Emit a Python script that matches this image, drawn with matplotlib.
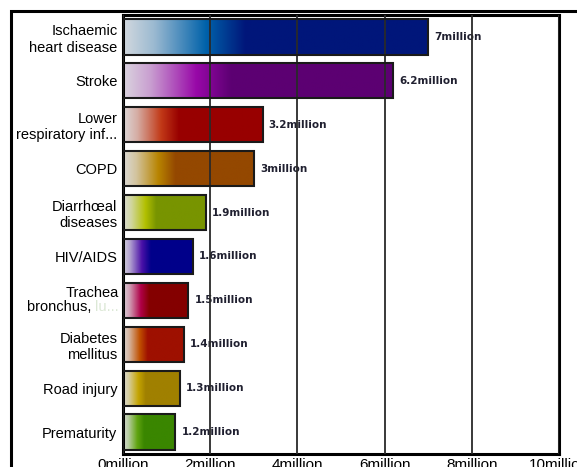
import numpy as np
import matplotlib
matplotlib.use("Agg")
import matplotlib.pyplot as plt
from matplotlib.colors import LinearSegmentedColormap, to_rgb
from matplotlib.patches import Rectangle

# Leading causes of death worldwide (millions)
causes = ["Ischaemic\nheart disease", "Stroke", "Lower\nrespiratory inf...", "COPD",
          "Diarrhœal\ndiseases", "HIV/AIDS", "Trachea\nbronchus, lu...", "Diabetes\nmellitus",
          "Road injury", "Prematurity"]
deaths = [7.0, 6.2, 3.2, 3.0, 1.9, 1.6, 1.5, 1.4, 1.3, 1.2]
mid_colors = ["#0062aa", "#9808a8", "#c23a18", "#b88400", "#b2c000",
              "#4a10a8", "#b00048", "#c05000", "#c4a400", "#60a410"]
dark_colors = ["#00167a", "#5c0072", "#980000", "#944800", "#789400",
               "#00008a", "#840000", "#9e1000", "#a08000", "#3a8600"]
xticks = [0, 2, 4, 6, 8, 10]

plt.rcParams["font.family"] = ["Liberation Sans", "DejaVu Sans"]

W, H = 577, 467
fig = plt.figure(figsize=(W / 100, H / 100), dpi=100)
ax = fig.add_axes([123 / W, 13 / H, (559 - 123) / W, (452 - 13) / H])

# outer frame
fig.patches.append(Rectangle((11 / W, -0.05), 1.2, (467 - 11) / H + 0.05,
                             transform=fig.transFigure, fill=False,
                             edgecolor="black", linewidth=2.2, zorder=0))

n = len(causes)
bar_h = 0.8
grey = np.array([0.87, 0.875, 0.885])
for i, (v, mc, dc) in enumerate(zip(deaths, mid_colors, dark_colors)):
    mid = np.array(to_rgb(mc))
    c0 = 0.95 * grey + 0.05 * mid
    c1 = 0.70 * grey + 0.30 * mid
    cmap = LinearSegmentedColormap.from_list(
        f"g{i}", [(0.0, c0), (0.10, c1), (0.27, mid), (0.40, to_rgb(dc)), (1.0, to_rgb(dc))])
    grad = np.linspace(0, 1, 256).reshape(1, -1)
    ax.imshow(grad, cmap=cmap, aspect="auto", interpolation="bilinear",
              extent=(0, v, i + bar_h / 2, i - bar_h / 2), zorder=2)
    ax.barh(i, v, height=bar_h, facecolor="none", edgecolor="#1a1a1a",
            linewidth=1.5, zorder=3)
    ax.annotate(f"{v:g}million", xy=(v, i), xytext=(4.5, 0), textcoords="offset points",
                ha="left", va="center", fontsize=7.5, fontweight="bold",
                color="#202030", family="DejaVu Sans", zorder=1)

ax.set_xlim(0, 10)
ax.set_ylim(n - 0.5, -0.5)
ax.set_xticks(xticks)
ax.set_xticklabels([f"{t}million" for t in xticks], fontsize=11)
ax.set_yticks(range(n))
labels = list(causes)
labels[6] = ""
ax.set_yticklabels(labels, fontsize=10.5)
ax.tick_params(axis="both", length=0)
ax.tick_params(axis="y", pad=4)
ax.tick_params(axis="x", pad=3)
ax.xaxis.grid(True, color="#2a2a2a", linewidth=1.3, zorder=1.5)
ax.set_axisbelow(False)
for s in ax.spines.values():
    s.set_linewidth(2.2)
    s.set_color("black")

# two-line label with a faded tail
tr = ax.get_yaxis_transform()
t1 = ax.text(-0.01, 6, "Trachea", transform=tr, ha="right", va="bottom",
             fontsize=10.5, color="black")
t_tail = ax.text(-0.01, 6, "lu...", transform=tr, ha="right", va="top",
                 fontsize=10.5, color="#dce8d6")
ax.annotate("bronchus, ", xy=(0, 0), xycoords=t_tail, ha="right", va="bottom",
            fontsize=10.5, color="black", annotation_clip=False)

fig.savefig("out.png", dpi=100)
